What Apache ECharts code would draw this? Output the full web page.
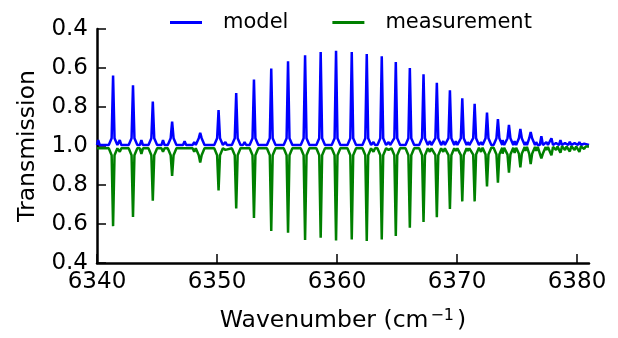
<!DOCTYPE html>
<html>
<head>
<meta charset="utf-8">
<script src="https://cdn.jsdelivr.net/npm/echarts@6/dist/echarts.min.js"></script>
<style>
  html, body { margin: 0; padding: 0; background: #fff; }
  #chart { width: 618px; height: 338px; }
</style>
</head>
<body>
<div id="chart"></div>
<script>
// strong absorption lines: centre (cm-1), model depth (1 - T), measured depth (1 - T)
const lineCenters = [6341.34, 6343.00, 6344.65, 6346.26, 6348.60, 6350.13, 6351.60, 6353.08,
  6354.52, 6355.92, 6357.34, 6358.64, 6359.92, 6361.23, 6362.48, 6363.73, 6364.90, 6366.07,
  6367.21, 6368.32, 6369.41, 6370.44, 6371.47, 6372.50, 6373.41, 6374.33, 6375.28, 6376.14,
  6377.03, 6377.87, 6378.62, 6379.40, 6380.20];
const modelDepth = [0.362, 0.312, 0.228, 0.125, 0.067, 0.184, 0.272, 0.341,
  0.397, 0.434, 0.465, 0.482, 0.488, 0.482, 0.472, 0.460, 0.431, 0.400,
  0.368, 0.324, 0.286, 0.245, 0.216, 0.172, 0.138, 0.108, 0.088, 0.071,
  0.050, 0.040, 0.030, 0.022, 0.020];
const measDepth = [0.411, 0.364, 0.281, 0.154, 0.085, 0.228, 0.320, 0.369,
  0.436, 0.445, 0.482, 0.470, 0.484, 0.479, 0.487, 0.479, 0.462, 0.419,
  0.390, 0.365, 0.323, 0.284, 0.284, 0.208, 0.188, 0.137, 0.110, 0.093,
  0.064, 0.048, 0.035, 0.028, 0.030];

// weak lines between the strong ones
const weakCenters = [6340.10, 6341.90, 6343.70, 6345.50, 6347.30, 6348.10, 6350.70, 6352.30,
  6363.04, 6364.30, 6367.74, 6368.86, 6369.90, 6370.90, 6372.00, 6373.80, 6374.80, 6375.70,
  6376.60, 6377.45, 6378.25, 6379.00, 6379.80, 6380.60];
const weakModel = [0.030, 0.030, 0.030, 0.030, 0.025, 0.020, 0.020, 0.020,
  0.020, 0.020, 0.025, 0.025, 0.025, 0.020, 0.020, 0.030, 0.025, 0.020,
  0.020, 0.020, 0.015, 0.015, 0.015, 0.012];
const weakMeas = [0.020, 0.030, 0.040, 0.030, 0.020, 0.030, 0.020, 0.015,
  0.030, 0.020, 0.030, 0.030, 0.025, 0.025, 0.030, 0.040, 0.035, 0.025,
  0.025, 0.020, 0.020, 0.020, 0.020, 0.015];

// baseline offsets (1 - T) read in steps along the axis
const modelBaseline = [[6340, 0.005]];
const measBaseline = [[6340, 0.012], [6371, 0.009], [6375, 0.005], [6378, 0.002]];
// level of the broad line wings just beside each strong line
const wingLevel = 0.035;

const xTicks = [6340, 6350, 6360, 6370, 6380];
const yTicks = [-0.6, -0.4, -0.2, 0, 0.2, 0.4, 0.6];
const yTickLabels = ['0.4', '0.6', '0.8', '1.0', '0.8', '0.6', '0.4'];

const X_MIN = 6340;
const X_MAX = 6381;

function baseAt(steps, x) {
  let b = steps[0][1];
  for (const s of steps) if (x >= s[0]) b = s[1];
  return b;
}

// model is drawn upward (+), measurement downward (-)
function buildLine(sign, depths, weakDepths, baseline) {
  const lines = lineCenters.map((c, i) => ({ c, d: depths[i], strong: depths[i] > 0.06 }))
    .concat(weakCenters.map((c, i) => ({ c, d: weakDepths[i], strong: false })))
    .sort((a, b) => a.c - b.c);
  const pts = [[X_MIN, sign * baseAt(baseline, X_MIN)]];
  for (const l of lines) {
    const b = baseAt(baseline, l.c);
    const w = l.strong ? 0.36 : 0.13;
    if (l.c - w > X_MIN) pts.push([l.c - w, sign * b]);
    if (l.strong) pts.push([l.c - 0.12, sign * (b + wingLevel)]);
    pts.push([l.c, sign * l.d]);
    if (l.strong) pts.push([l.c + 0.12, sign * (b + wingLevel)]);
    if (l.c + w < X_MAX) pts.push([l.c + w, sign * b]);
  }
  pts.push([X_MAX, sign * baseAt(baseline, X_MAX)]);
  return pts;
}

const chart = echarts.init(document.getElementById('chart'));
const font = 'DejaVu Sans';

chart.setOption({
  animation: false,
  textStyle: { fontFamily: font },
  grid: { left: 97, right: 29, top: 29, bottom: 72 },
  legend: {
    left: 170,
    top: 12,
    padding: 0,
    itemWidth: 32,
    itemHeight: 3,
    itemGap: 44,
    icon: 'rect',
    textStyle: { fontFamily: font, fontSize: 21, color: '#000', padding: [0, 0, 0, 16] },
    data: ['model', 'measurement']
  },
  xAxis: {
    type: 'value',
    min: X_MIN,
    max: X_MAX,
    interval: 10,
    name: 'Wavenumber (cm{sup|−1})',
    nameLocation: 'middle',
    nameGap: 45,
    nameTextStyle: {
      fontFamily: font, fontSize: 23.5, color: '#000',
      rich: { sup: { fontFamily: font, fontSize: 16, color: '#000', verticalAlign: 'top', padding: [0, 3, 10, 2] } }
    },
    axisLine: { onZero: false, lineStyle: { color: '#000', width: 2.5 } },
    axisTick: { inside: true, length: 9, lineStyle: { color: '#000', width: 1.5 }, customValues: xTicks },
    axisLabel: {
      customValues: xTicks, fontFamily: font, fontSize: 23, color: '#000', margin: 8,
      formatter: v => String(v)
    },
    splitLine: { show: false }
  },
  yAxis: {
    type: 'value',
    min: -0.6,
    max: 0.6,
    interval: 0.2,
    name: 'Transmission',
    nameLocation: 'middle',
    nameGap: 57,
    nameTextStyle: { fontFamily: font, fontSize: 23.5, color: '#000' },
    axisLine: { show: true, lineStyle: { color: '#000', width: 2.5 } },
    axisTick: { show: true, inside: true, length: 9, lineStyle: { color: '#000', width: 1.5 }, customValues: yTicks },
    axisLabel: {
      customValues: yTicks,
      fontFamily: font, fontSize: 23, color: '#000', margin: 9,
      formatter: v => yTickLabels[Math.round((v + 0.6) / 0.2)]
    },
    splitLine: { show: false }
  },
  series: [
    {
      name: 'model',
      type: 'line',
      showSymbol: false,
      color: '#0000ff',
      lineStyle: { width: 2.5, color: '#0000ff' },
      data: buildLine(1, modelDepth, weakModel, modelBaseline)
    },
    {
      name: 'measurement',
      type: 'line',
      showSymbol: false,
      color: '#008000',
      lineStyle: { width: 2.5, color: '#008000' },
      data: buildLine(-1, measDepth, weakMeas, measBaseline)
    }
  ]
});
</script>
</body>
</html>
